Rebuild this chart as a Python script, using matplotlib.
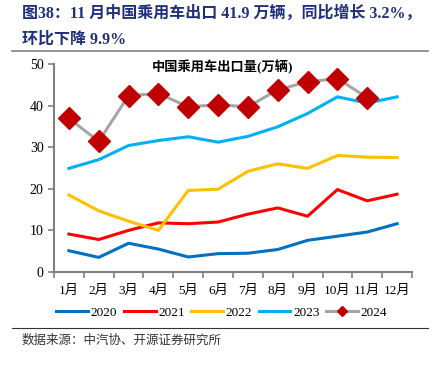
import matplotlib
matplotlib.use("Agg")
import matplotlib.pyplot as plt
from matplotlib.lines import Line2D

plt.rcParams['font.family'] = ['Liberation Serif', 'Noto Sans CJK SC']

months = [f"{i}月" for i in range(1, 13)]
y2020 = [5.1, 3.5, 6.9, 5.5, 3.6, 4.4, 4.5, 5.4, 7.6, 8.6, 9.6, 11.6]
y2021 = [9.1, 7.8, 10.0, 11.8, 11.6, 12.0, 13.9, 15.4, 13.4, 19.8, 17.1, 18.7]
y2022 = [18.5, 14.7, 12.2, 10.0, 19.6, 19.9, 24.2, 26.0, 24.9, 28.0, 27.6, 27.5]
y2023 = [24.9, 27.0, 30.4, 31.6, 32.5, 31.2, 32.6, 34.9, 38.1, 42.1, 40.6, 42.1]
y2024 = [36.9, 31.4, 42.4, 42.9, 39.7, 40.2, 39.7, 43.8, 45.7, 46.5, 41.9]

fig = plt.figure(figsize=(4.39, 3.69), dpi=100)
ax = fig.add_axes([0.123, 0.263, 0.8155, 0.5636])

x = list(range(12))
ax.plot(x, y2020, color="#0070C0", lw=2.2, label="2020")
ax.plot(x, y2021, color="#FF0000", lw=2.2, label="2021")
ax.plot(x, y2022, color="#FFC000", lw=2.2, label="2022")
ax.plot(x, y2023, color="#00B0F0", lw=2.2, label="2023")
ax.plot(x[:len(y2024)], y2024, color="#A6A6A6", lw=2.2, marker="D", ms=11,
        mfc="#C00000", mec="#C00000", label="2024")

ax.set_xlim(-0.5, 11.5)
ax.set_ylim(0, 50)
ax.set_yticks(range(0, 51, 10))
ax.set_xticks([i - 0.5 for i in range(13)], minor=False)
ax.set_xticklabels([])
ax.set_xticks(x, minor=True)
ax.set_xticklabels(months, minor=True, fontsize=9.5)
ax.tick_params(axis="x", which="minor", length=0, pad=9)
ax.tick_params(axis="x", which="major", length=4, width=1.2, color="#808080")
ax.tick_params(axis="y", length=4, width=1.2, color="#808080", labelsize=10)
for s in ("top", "right"):
    ax.spines[s].set_visible(False)
for s in ("left", "bottom"):
    ax.spines[s].set_color("#808080")
    ax.spines[s].set_linewidth(1.5)

# 图内小标题
ax.text(0.47, 0.985, "中国乘用车出口量(万辆)", transform=ax.transAxes, ha="center",
        va="center", fontsize=9.5, fontweight="bold")

handles, labels = ax.get_legend_handles_labels()
handles[-1] = Line2D([], [], color="#A6A6A6", lw=2.2, marker="D", ms=5,
                     mfc="#C00000", mec="#C00000")
fig.legend(handles, labels, loc="center", bbox_to_anchor=(0.505, 0.152), ncol=5,
           frameon=False, fontsize=9.5, handlelength=2.4, handletextpad=0.2,
           columnspacing=0.5)

fig.text(0.05, 0.963, "图38：11 月中国乘用车出口 41.9 万辆，同比增长 3.2%，",
         fontsize=11.5, fontweight="bold", color="#1F2F7A", va="center")
fig.text(0.05, 0.893, "环比下降 9.9%", fontsize=11.5, fontweight="bold",
         color="#1F2F7A", va="center")
fig.add_artist(Line2D([0.027, 0.975], [0.863, 0.863], color="#808080", lw=1.2))
fig.add_artist(Line2D([0.027, 0.975], [0.111, 0.111], color="#333333", lw=0.8))
fig.text(0.05, 0.076, "数据来源：中汽协、开源证券研究所", fontsize=9, color="#333333",
         va="center")

fig.savefig("out.png", dpi=100)
